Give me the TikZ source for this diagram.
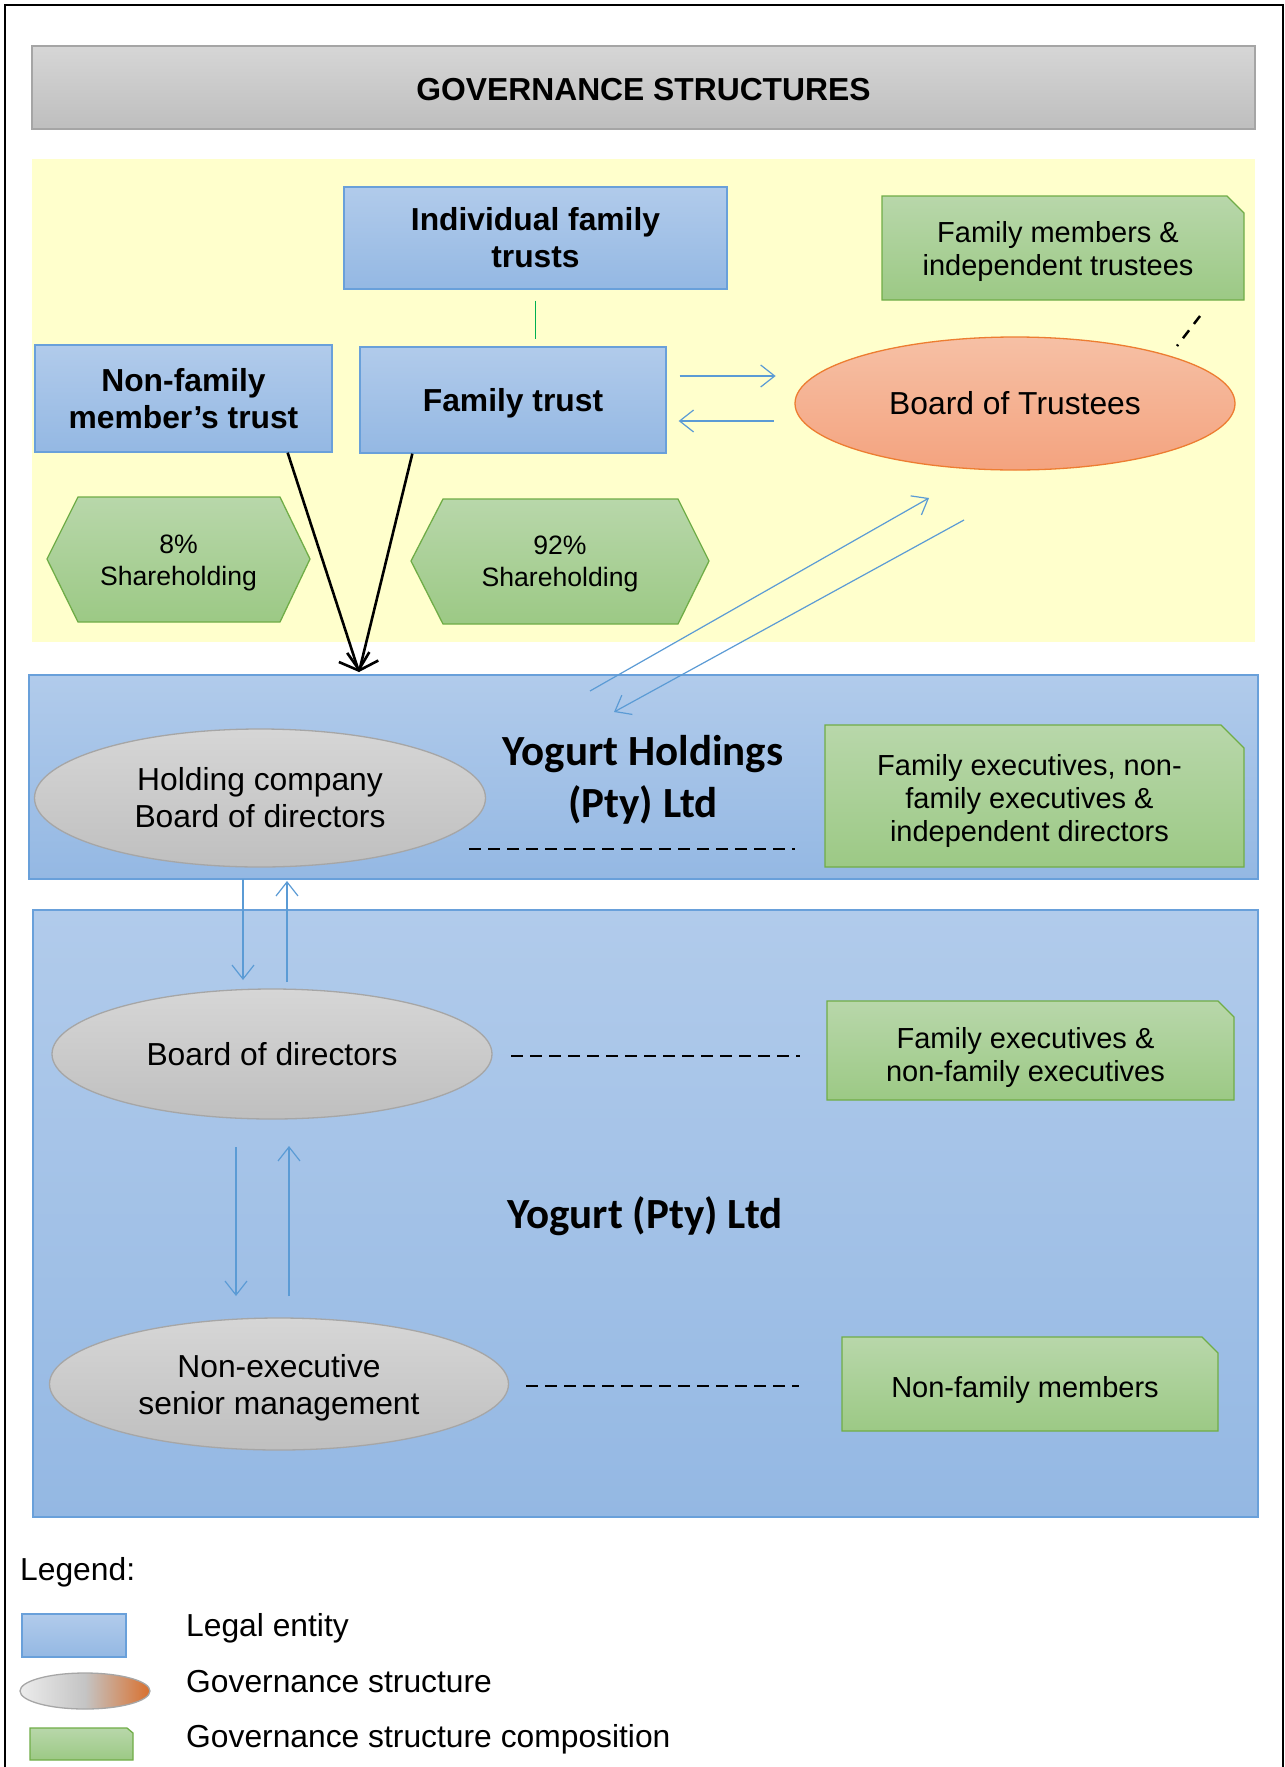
\documentclass[tikz,border=0pt]{standalone}
\usepackage{fontspec}
\setmainfont{Liberation Sans}
\newfontfamily\carlito{Carlito}
\usetikzlibrary{arrows.meta,shapes.geometric,calc}
\definecolor{entT}{RGB}{177,203,235}
\definecolor{entB}{RGB}{148,184,227}
\definecolor{entD}{RGB}{105,160,218}
\definecolor{grT}{RGB}{184,215,170}
\definecolor{grB}{RGB}{156,201,133}
\definecolor{grD}{RGB}{112,173,71}
\definecolor{gyT}{RGB}{214,214,214}
\definecolor{gyB}{RGB}{191,191,191}
\definecolor{gyD}{RGB}{166,166,166}
\definecolor{orT}{RGB}{246,192,165}
\definecolor{orB}{RGB}{244,163,127}
\definecolor{orD}{RGB}{237,125,49}
\definecolor{yel}{RGB}{255,255,204}
\definecolor{arr}{RGB}{91,155,213}
\definecolor{ttT}{RGB}{214,214,214}
\definecolor{ttB}{RGB}{190,190,190}
\definecolor{ttD}{RGB}{165,165,165}
\definecolor{lnk}{RGB}{0,176,80}
\definecolor{lgL}{RGB}{236,236,236}
\definecolor{lgM}{RGB}{196,196,196}
\definecolor{lgR}{RGB}{217,112,46}
\newcommand\compbox[8]{%
  \path[comp] (#2,#3) -- ({#4-#6},#3) -- (#4,{#3+#6}) -- (#4,#5) -- (#2,#5) -- cycle;
  \node[comptext] (#1) at ({(#2+#4)/2-5},{(#3+#5)/2+#8}) {#7};}
\newcommand\lowerby[2]{\raisebox{-#1}[\height][\depth]{#2}}
\begin{document}
\begin{tikzpicture}[x=1pt,y=-1pt,
  entity/.style={rectangle,draw=entD,line width=1.3pt,top color=entT,bottom color=entB,inner sep=0pt,align=center,font=\fontsize{31.8}{37}\selectfont\bfseries},
  gov/.style={ellipse,draw=gyD,line width=1.3pt,top color=gyT,bottom color=gyB,inner sep=0pt,align=center,font=\fontsize{31.8}{37}\selectfont},
  comp/.style={draw=grD,line width=1.3pt,top color=grT,bottom color=grB},
  comptext/.style={align=center,inner sep=0pt,font=\fontsize{29}{33}\selectfont},
  sharetext/.style={align=center,inner sep=0pt,font=\fontsize{26.6}{32}\selectfont},
  bigname/.style={align=center,inner sep=0pt,font=\fontsize{43}{52}\selectfont\carlito\bfseries},
  bluearr/.style={draw=arr,line width=1.2pt,-{Straight Barb[length=14pt,width=22pt,line width=1.2pt]}},
  blackarr/.style={draw=black,line width=2.6pt,-{Straight Barb[length=14pt,width=32pt,line width=2.6pt]}},
  dashline/.style={draw=black,line width=2.6pt,dash pattern=on 12pt off 7pt},
  legtext/.style={anchor=west,inner sep=0pt,font=\fontsize{31.8}{37}\selectfont}
]
\useasboundingbox (0,0) rectangle (1285,1767);
\fill[white] (0,0) rectangle (1285,1767);
% frame
\draw[line width=2.5pt] (5,1800) -- (5,5) -- (1283,5) -- (1283,1800);

% title
\node[rectangle,draw=ttD,line width=1.3pt,top color=ttT,bottom color=ttB,minimum width=1223pt,minimum height=83pt,inner sep=0pt,font=\fontsize{31.8}{37}\selectfont\bfseries] (title) at (643.5,87.5) {\lowerby{2.5pt}{GOVERNANCE STRUCTURES}};

% trust zone
\node[rectangle,fill=yel,minimum width=1223pt,minimum height=483pt,inner sep=0pt] (zone) at (643.5,400.5) {};

\node[entity,minimum width=383pt,minimum height=102pt] (indiv) at (535.5,238) {Individual family\\trusts};
\node[entity,minimum width=297pt,minimum height=107pt] (nonfam) at (183.5,398.5) {Non-family\\member’s trust};
\node[entity,minimum width=306pt,minimum height=106pt] (famtrust) at (513,400) {\lowerby{3.4pt}{Family trust}};
\node[gov,draw=orD,top color=orT,bottom color=orB,minimum width=440pt,minimum height=133pt] (bot) at (1015,403.5) {Board of Trustees};
\compbox{fammem}{882}{196}{1244}{300}{17}{Family members \&\\independent trustees}{3}

\path[comp] (47,559) -- (78,497) -- (280,497) -- (310,559) -- (280,622) -- (78,622) -- cycle;
\node[sharetext] (s8) at (178.5,563) {8\%\\Shareholding};
\path[comp] (411,561) -- (443,499) -- (678,499) -- (709,561) -- (678,624) -- (443,624) -- cycle;
\node[sharetext] (s92) at (560,564) {92\%\\Shareholding};

% Yogurt Holdings
\node[entity,minimum width=1229pt,minimum height=204pt] (holdings) at (643.5,777) {};
\node[gov,minimum width=451pt,minimum height=138pt] (hcb) at (260,798) {Holding company\\Board of directors};
\node[bigname] (hname) at (643,780) {Yogurt Holdings\\(Pty) Ltd};
\compbox{hcomp}{825}{725}{1244}{867}{23}{Family executives, non-\\family executives \&\\independent directors}{5}

% Yogurt (Pty) Ltd
\node[entity,minimum width=1225pt,minimum height=607pt] (yogurt) at (645.5,1213.5) {};
\node[gov,minimum width=440pt,minimum height=130pt] (bod) at (272,1054) {Board of directors};
\compbox{bodcomp}{827}{1001}{1234}{1100}{16}{Family executives \&\\non-family executives}{7}
\node[bigname] (yname) at (645,1216) {Yogurt (Pty) Ltd};
\node[gov,minimum width=459pt,minimum height=132pt] (nesm) at (279,1384) {\lowerby{4pt}{\parbox{300pt}{\centering Non-executive\\senior management}}};
\compbox{nfm}{842}{1337}{1218}{1431}{16}{Non-family members}{6}

% connectors
\draw[draw=lnk,line width=1.6pt,shorten <=11pt,shorten >=7pt] (indiv.south) -- (indiv.south |- famtrust.north);
\draw[bluearr] ([xshift=13pt,yshift=24pt]famtrust.east) -- ([xshift=109pt,yshift=24pt]famtrust.east);
\draw[bluearr] ([xshift=107pt,yshift=-21pt]famtrust.east) -- ([xshift=12pt,yshift=-21pt]famtrust.east);
\coordinate (tip) at (359,672);
\draw[blackarr] ([xshift=-45pt]nonfam.south east) -- (tip);
\draw[blackarr] ([xshift=53pt]famtrust.south west) -- (tip);
\coordinate (d1) at (590,691);
\coordinate (d2) at (929,498);
\coordinate (d3) at (964,520);
\coordinate (d4) at (614,712);
\draw[bluearr] (d1) -- (d2);
\draw[bluearr] (d3) -- (d4);
\coordinate (t1) at (1200,316);
\coordinate (t2) at (1177,346);
\draw[black,line width=2.5pt,dash pattern=on 10pt off 8pt] (t1) -- (t2);

\draw[dashline] (469,849) coordinate (h1) -- (795,849) coordinate (h2);
\draw[dashline] (511,1056) coordinate (b1) -- (800,1056) coordinate (b2);
\draw[dashline] (526,1386) coordinate (n1) -- (799,1386) coordinate (n2);

\draw[bluearr] (243,879) coordinate (v1) -- (243,980) coordinate (v2);
\draw[bluearr] (287,982) coordinate (v3) -- (287,881) coordinate (v4);
\draw[bluearr] (236,1147) coordinate (w1) -- (236,1296) coordinate (w2);
\draw[bluearr] (289,1296) coordinate (w3) -- (289,1146) coordinate (w4);

% legend
\node[legtext] (leg) at (20,1572) {Legend:};
\node[rectangle,draw=entD,line width=1.3pt,top color=entT,bottom color=entB,minimum width=104pt,minimum height=43pt,inner sep=0pt] (lg1) at (74,1635.5) {};
\node[legtext] (lt1) at (186,1628) {Legal entity};
\node[ellipse,draw=gyD,line width=1.3pt,left color=lgL,right color=lgR,middle color=lgM,minimum width=130pt,minimum height=36pt,inner sep=0pt] (lg2) at (85,1691) {};
\node[legtext] (lt2) at (186,1682) {Governance structure};
\path[comp] (30,1728) -- (127,1728) -- (133,1733) -- (133,1760) -- (30,1760) -- cycle;
\node[inner sep=0pt] (lg3) at (81.5,1744) {};
\node[legtext] (lt3) at (186,1739) {Governance structure composition};
\end{tikzpicture}
\end{document}
